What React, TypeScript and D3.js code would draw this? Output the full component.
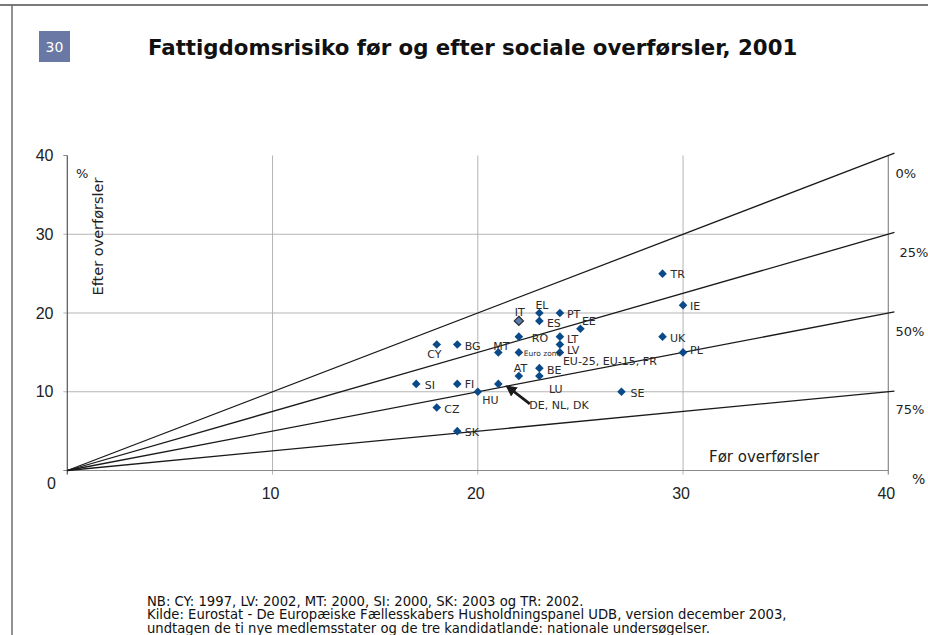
import React from 'react'
import * as d3 from 'd3'

// data: poverty risk before / after social transfers (%)
const countries = ['TR', 'IE', 'UK', 'PL', 'SE', 'EL', 'PT', 'IT', 'ES', 'EE', 'RO', 'LT', 'LV', 'EU-25, EU-15, FR', 'Euro zone', 'MT', 'BG', 'CY', 'BE', 'AT', 'LU', 'SI', 'FI', 'DE, NL, DK', 'HU', 'CZ', 'SK']
const before = [29, 30, 29, 30, 27, 23, 24, 22, 23, 25, 22, 24, 24, 24, 22, 21, 19, 18, 23, 22, 23, 17, 19, 21, 20, 18, 19]
const after = [25, 21, 17, 15, 10, 20, 20, 19, 19, 18, 17, 17, 16, 15, 15, 15, 16, 16, 13, 12, 12, 11, 11, 11, 10, 8, 5]
const highlighted = 'IT'

// reduction lines (share removed by transfers)
const reductionShares = [0, 0.25, 0.5, 0.75]
const reductionLabels = ['0%', '25%', '50%', '75%']

const xTicks = [10, 20, 30, 40]
const yTicks = [10, 20, 30, 40]

const title = 'Fattigdomsrisiko før og efter sociale overførsler, 2001'
const chartNumber = '30'
const notes = [
  'NB: CY: 1997, LV: 2002, MT: 2000, SI: 2000, SK: 2003 og TR: 2002.',
  'Kilde: Eurostat - De Europæiske Fællesskabers Husholdningspanel UDB, version december 2003,',
  'undtagen de ti nye medlemsstater og de tre kandidatlande: nationale undersøgelser.',
]

// label placement next to each marker (px, text start / middle)
const labelOffsets: Record<string, [number, number]> = {
  TR: [8, 1], IE: [7, 1.5], UK: [7.5, 1.5], PL: [7, -2], SE: [9, 2],
  EL: [-4, -7.5], PT: [7, 1.5], IT: [-4, -8.5], ES: [7.5, 2.5], EE: [1.5, -7.5],
  RO: [13, 2], LT: [7, 2.5], LV: [7, 5.5], 'EU-25, EU-15, FR': [3, 9], 'Euro zone': [5, 1.5],
  MT: [-5, -6], BG: [7.5, 2], CY: [-9.5, 10], BE: [7.5, 2], AT: [-5, -7.5],
  LU: [9.5, 13.5], SI: [8.5, 1.5], FI: [7.5, 0.5], 'DE, NL, DK': [31, 22], HU: [4.5, 8.5],
  CZ: [7.5, 2], SK: [7.5, 1.5],
}

const W = 928
const H = 635
const textFont = 'DejaVu Sans, Verdana, sans-serif'
const numFont = 'Liberation Sans, Arial, sans-serif'

export default function App() {
  const x = d3.scaleLinear().domain([0, 40]).range([67.3, 888.3])
  const y = d3.scaleLinear().domain([0, 40]).range([470.5, 155.5])
  const xEnd = 40.3

  const diamond = (r: number) => `M0,${-r}L${r},0L0,${r}L${-r},0Z`

  const points = countries.map((c, i) => ({ c, bx: before[i], ay: after[i] }))
  const arrowFrom = points.find((p) => p.c === 'DE, NL, DK')!

  return (
    <svg width={W} height={H} style={{ position: 'absolute', left: 0, top: 0, background: '#fff' }} fontFamily={textFont}>
      <defs>
        <marker id="arrowHead" viewBox="0 0 10 10" refX="8" refY="5" markerWidth="4" markerHeight="4" orient="auto">
          <path d="M0,0L10,5L0,10Z" fill="#1a1a1a" />
        </marker>
      </defs>

      {/* page frame */}
      <line x1={0} x2={W} y1={5} y2={5} stroke="#7a7a7a" strokeWidth={2} />
      <line x1={12} x2={12} y1={5} y2={H} stroke="#6e6e6e" strokeWidth={1.5} />

      {/* badge + title */}
      <rect x={39} y={31} width={31} height={31} fill="#6a78a5" />
      <text x={54.5} y={47} fill="#fff" fontSize={14} textAnchor="middle" dominantBaseline="central">
        {chartNumber}
      </text>
      <text x={148} y={47} fontSize={21.3} fontWeight="bold" dominantBaseline="central" fill="#111">
        {title}
      </text>

      {/* grid */}
      {xTicks.slice(0, 3).map((t) => (
        <line key={'gx' + t} x1={x(t)} x2={x(t)} y1={y(40)} y2={y(0) + 4} stroke="#b4b4b4" strokeWidth={1} />
      ))}
      {yTicks.slice(0, 3).map((t) => (
        <line key={'gy' + t} x1={x(0) - 4} x2={x(40)} y1={y(t)} y2={y(t)} stroke="#b4b4b4" strokeWidth={1} />
      ))}
      <line x1={x(0) - 4} x2={x(0)} y1={y(40)} y2={y(40)} stroke="#8a8a8a" />
      <line x1={x(40)} x2={x(40)} y1={y(40)} y2={y(0) + 4} stroke="#8a8a8a" strokeWidth={1.2} />
      <line x1={x(0) - 4} x2={x(40)} y1={y(0)} y2={y(0)} stroke="#8a8a8a" strokeWidth={1.2} />
      <line x1={x(0)} x2={x(0)} y1={y(40)} y2={y(0) + 4} stroke="#555" strokeWidth={1.2} />

      {/* reduction lines */}
      {reductionShares.map((s) => (
        <line key={'r' + s} x1={x(0)} y1={y(0)} x2={x(xEnd)} y2={y(xEnd * (1 - s))} stroke="#1a1a1a" strokeWidth={1.3} />
      ))}
      {reductionShares.map((s, i) => (
        <text key={'rl' + s} x={x(xEnd) + (i === 1 ? 5 : 1)} y={y(40 * (1 - s)) + 18} fontSize={13} dominantBaseline="central" fill="#222">
          {reductionLabels[i]}
        </text>
      ))}

      {/* axis tick labels */}
      {yTicks.map((t) => (
        <text key={'yt' + t} x={53.5} y={y(t)} fontFamily={numFont} fontSize={16} textAnchor="end" dominantBaseline="central" fill="#222">
          {t}
        </text>
      ))}
      {xTicks.map((t) => (
        <text key={'xt' + t} x={x(t) - 2} y={y(0) + 23} fontFamily={numFont} fontSize={16} textAnchor="middle" dominantBaseline="central" fill="#222">
          {t}
        </text>
      ))}
      <text x={51.5} y={y(0) + 13} fontFamily={numFont} fontSize={16} textAnchor="middle" dominantBaseline="central" fill="#222">
        0
      </text>

      {/* axis titles */}
      <text x={76} y={173} fontSize={13} dominantBaseline="central" fill="#222">%</text>
      <text transform={`translate(103,${236.5}) rotate(-90)`} fontSize={14.5} textAnchor="middle" fill="#222">
        Efter overførsler
      </text>
      <text x={709} y={462} fontSize={15} fill="#222">Før overførsler</text>
      <text x={912} y={479} fontSize={14} dominantBaseline="central" fill="#222">%</text>

      {/* arrow for DE, NL, DK */}
      <line
        x1={x(arrowFrom.bx) + 31.5}
        y1={y(arrowFrom.ay) + 20}
        x2={x(arrowFrom.bx) + 9}
        y2={y(arrowFrom.ay) + 2.7}
        stroke="#1a1a1a"
        strokeWidth={2.8}
        markerEnd="url(#arrowHead)"
      />

      {/* markers */}
      {points.map((p) => (
        <path
          key={'m' + p.c}
          d={diamond(p.c === highlighted ? 4.6 : 4.3)}
          transform={`translate(${x(p.bx)},${y(p.ay)})`}
          fill={p.c === highlighted ? '#5a7bb0' : '#0b4a88'}
          stroke={p.c === highlighted ? '#2b2b2b' : 'none'}
          strokeWidth={1.2}
        />
      ))}

      {/* labels */}
      {points.map((p) => {
        const [dx, dy] = labelOffsets[p.c] ?? [7, 0]
        const small = p.c === 'Euro zone'
        return (
          <text
            key={'l' + p.c}
            x={x(p.bx) + dx}
            y={y(p.ay) + dy}
            fontSize={small ? 7.5 : 11}
            dominantBaseline="central"
            fill="#2a2a2a"
          >
            {p.c}
          </text>
        )
      })}

      {/* notes */}
      {notes.map((n, i) => (
        <text key={'n' + i} x={147} y={601 + i * 13.5} fontSize={13.2} dominantBaseline="central" fill="#111">
          {n}
        </text>
      ))}
    </svg>
  )
}
